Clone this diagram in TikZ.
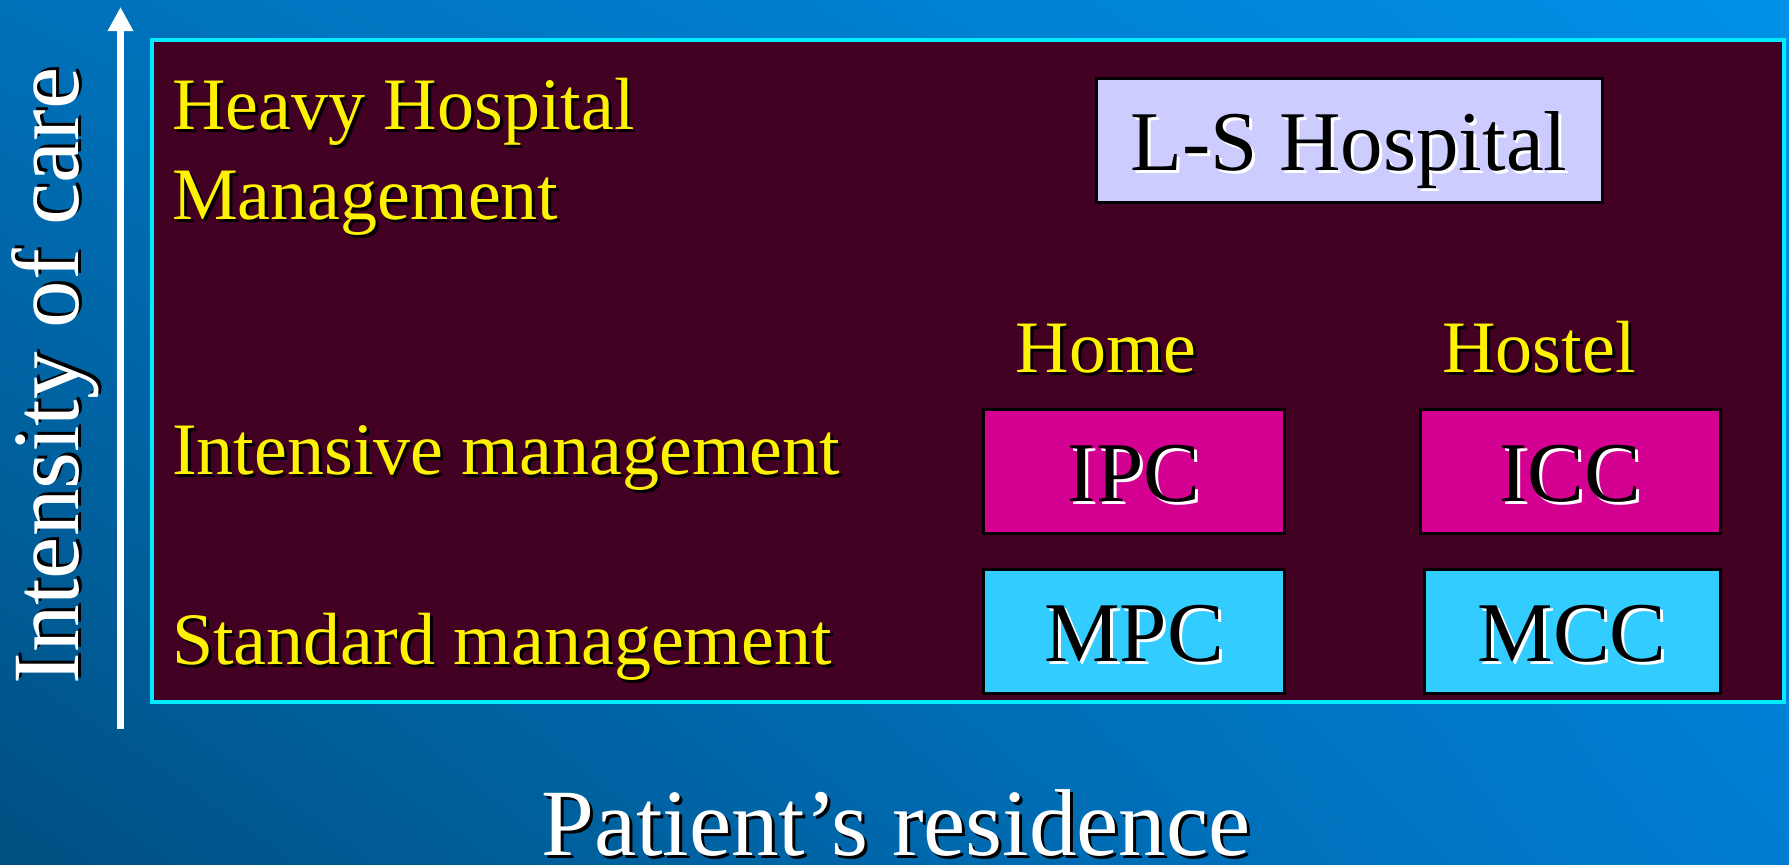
\documentclass[tikz,border=0pt]{standalone}
\usepackage{fontspec}
\setmainfont{Liberation Serif}
\usetikzlibrary{arrows.meta,shadings}

\definecolor{bgUL}{RGB}{0,112,185}
\definecolor{bgUR}{RGB}{0,144,232}
\definecolor{bgLL}{RGB}{0,80,130}
\definecolor{bgLR}{RGB}{0,125,210}
\definecolor{slate}{RGB}{66,0,34}
\definecolor{rim}{RGB}{0,235,255}
\definecolor{lsfill}{RGB}{204,204,255}
\definecolor{intfill}{RGB}{212,0,145}
\definecolor{stdfill}{RGB}{51,204,255}

\newcommand\shadowtext[2]{\rlap{\kern3pt\smash{\raisebox{-3pt}{\color{#1}#2}}}#2}

\begin{document}
\begin{tikzpicture}[x=1pt,y=-1pt,
    rowlabel/.style={text=yellow, anchor=base west, inner sep=0pt, font=\fontsize{74}{90}\selectfont},
    colhead/.style={text=yellow, anchor=base, inner sep=0pt, font=\fontsize{74}{90}\selectfont},
    carebox/.style={draw=black, line width=3pt, inner sep=0pt, minimum height=124pt,
      text height=60pt, text depth=0pt, font=\fontsize{85}{100}\selectfont},
    axislabel/.style={text=white, anchor=base, inner sep=0pt, font=\fontsize{95}{110}\selectfont}]
        \useasboundingbox (0,0) rectangle (1789,865);
        \shade[upper left=bgUL, upper right=bgUR, lower left=bgLL, lower right=bgLR] (0,0) rectangle (1789,865);

        % panel
        \draw[rim, line width=3.5pt, fill=slate] (152,40) rectangle (1784,702);

        % vertical axis
        \coordinate (axisfoot) at (120.5,729);
        \coordinate (axistip) at (120.5,7);
        \draw[white, line width=7pt, -{Triangle[width=24pt,length=24pt]}] (axisfoot) -- (axistip);
        \node[axislabel, rotate=90] (intensity) at (78,376) {\shadowtext{black}{Intensity of care}};
        \node[axislabel] (residence) at (896,855) {\shadowtext{black}{Patient’s residence}};

        % rows
        \node[rowlabel, align=left] (heavy) at (172,219) {\shadowtext{black}{Heavy Hospital}\\\shadowtext{black}{Management}};
        \node[rowlabel] (intensive) at (172,474) {\shadowtext{black}{Intensive management}};
        \node[rowlabel] (standard) at (172,664) {\shadowtext{black}{Standard management}};

        % columns
        \node[colhead] (home) at (1106,372) {\shadowtext{black}{Home}};
        \node[colhead] (hostel) at (1539,372) {\shadowtext{black}{Hostel}};

        \node[carebox, fill=lsfill, minimum width=506pt] (lsh) at (1349,140) {\shadowtext{white}{L-S Hospital}};
        \foreach \name/\txt/\cx/\cy/\bw/\col in {ipc/IPC/1134/471/301/intfill, icc/ICC/1570/471/300/intfill,
                                                 mpc/MPC/1134/631/301/stdfill, mcc/MCC/1572/631/296/stdfill} {
          \node[carebox, fill=\col, minimum width=\bw pt] (\name) at (\cx,\cy) {\shadowtext{white}{\txt}};
        }
      \end{tikzpicture}
\end{document}
